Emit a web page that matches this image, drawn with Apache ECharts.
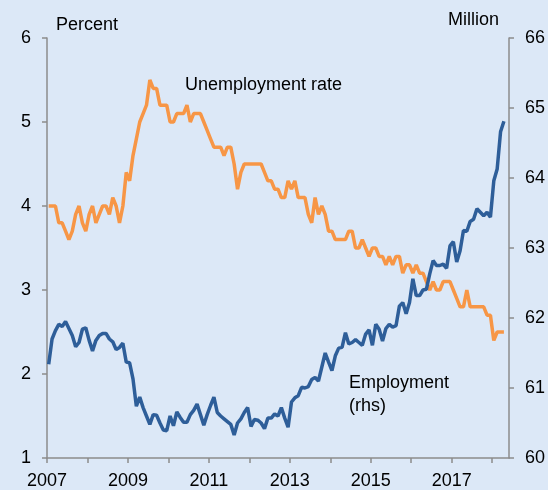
<!DOCTYPE html>
<html>
<head>
<meta charset="utf-8">
<script src="https://cdn.jsdelivr.net/npm/echarts@6/dist/echarts.min.js"></script>
<style>
html,body{margin:0;padding:0;background:#DCE8F7;}
#c{width:548px;height:490px;}
</style>
</head>
<body>
<div id="c"></div>
<script>
// Monthly data, starting January 2007
const startYear = 2007;
const unemploymentRate = [
4.0,4.0,4.0,3.8,3.8,3.7,3.6,3.7,3.9,4.0,3.8,3.7,
3.9,4.0,3.8,3.9,4.0,4.0,3.9,4.1,4.0,3.8,4.0,4.4,
4.3,4.6,4.8,5.0,5.1,5.2,5.5,5.4,5.4,5.2,5.2,5.2,
5.0,5.0,5.1,5.1,5.1,5.2,5.0,5.1,5.1,5.1,5.0,4.9,
4.8,4.7,4.7,4.7,4.6,4.7,4.7,4.5,4.2,4.4,4.5,4.5,
4.5,4.5,4.5,4.5,4.4,4.3,4.3,4.2,4.2,4.1,4.1,4.3,
4.2,4.3,4.1,4.1,4.1,3.9,3.8,4.1,3.9,4.0,3.9,3.7,
3.7,3.6,3.6,3.6,3.6,3.7,3.7,3.5,3.5,3.6,3.5,3.4,
3.5,3.5,3.4,3.4,3.3,3.4,3.3,3.4,3.4,3.2,3.3,3.3,
3.2,3.3,3.2,3.2,3.1,3.0,3.1,3.0,3.0,3.1,3.1,3.1,
3.0,2.9,2.8,2.8,3.0,2.8,2.8,2.8,2.8,2.8,2.7,2.7,
2.4,2.5,2.5,2.5
];
const employment = [
61.34,61.70,61.82,61.91,61.88,61.95,61.85,61.75,61.59,61.65,61.84,61.86,
61.68,61.53,61.68,61.75,61.78,61.78,61.70,61.66,61.55,61.58,61.64,61.37,
61.36,61.13,60.74,60.87,60.72,60.60,60.48,60.62,60.61,60.50,60.40,60.39,
60.60,60.46,60.66,60.58,60.51,60.51,60.62,60.68,60.77,60.62,60.47,60.62,
60.75,60.87,60.65,60.60,60.56,60.52,60.48,60.33,60.50,60.56,60.65,60.72,
60.45,60.55,60.54,60.50,60.42,60.57,60.57,60.63,60.60,60.72,60.57,60.44,
60.80,60.86,60.89,61.01,61.00,61.02,61.12,61.15,61.10,61.30,61.50,61.37,
61.25,61.46,61.57,61.58,61.79,61.63,61.65,61.69,61.65,61.61,61.77,61.83,
61.61,61.91,61.84,61.67,61.85,61.91,61.87,61.89,62.17,62.22,62.06,62.22,
62.56,62.32,62.32,62.40,62.41,62.63,62.82,62.75,62.75,62.77,62.71,63.03,
63.09,62.80,62.96,63.25,63.24,63.38,63.41,63.56,63.51,63.46,63.51,63.44,
63.96,64.13,64.66,64.81
];
const xTicks = [2007,2008,2009,2010,2011,2012,2013,2014,2015,2016,2017,2018];
const xLabels = [2007,2009,2011,2013,2015,2017];
const leftTicks = [1,2,3,4,5,6];
const rightTicks = [60,61,62,63,64,65,66];

const toXY = arr => arr.map((v,i)=>[startYear + (i+0.5)/12, v]);

const FONT = 'Liberation Sans, Arial, sans-serif';
const axisGray = '#8C8C8C';
const chart = echarts.init(document.getElementById('c'), null, {renderer:'canvas'});
chart.setOption({
  backgroundColor:'#DCE8F7',
  animation:false,
  grid:{left:47, right:37, top:38, bottom:30, containLabel:false},
  xAxis:{
    type:'value', min:2007, max:2007+137/12,
    axisLine:{show:true, lineStyle:{color:axisGray, width:1.5}},
    axisTick:{show:true, length:5, lineStyle:{color:axisGray, width:1.5}, customValues:xTicks},
    axisLabel:{color:'#000', fontSize:18, fontFamily:FONT, margin:14, customValues:xLabels, formatter:v=>String(Math.round(v))},
    splitLine:{show:false}
  },
  yAxis:[{
    type:'value', min:1, max:6, interval:1, position:'left',
    axisLine:{show:true, lineStyle:{color:axisGray, width:1.5}},
    axisTick:{show:true, length:5, lineStyle:{color:axisGray, width:1.5}},
    axisLabel:{color:'#000', fontSize:18, fontFamily:FONT, margin:16},
    splitLine:{show:false}
  },{
    type:'value', min:60, max:66, interval:1, position:'right',
    axisLine:{show:true, lineStyle:{color:axisGray, width:1.5}},
    axisTick:{show:true, length:5, lineStyle:{color:axisGray, width:1.5}},
    axisLabel:{color:'#000', fontSize:18, fontFamily:FONT, margin:16},
    splitLine:{show:false}
  }],
  series:[{
    name:'Unemployment rate', type:'line', yAxisIndex:0, data:toXY(unemploymentRate),
    showSymbol:false, symbol:'none', lineStyle:{color:'#F79646', width:3.5}, itemStyle:{color:'#F79646'}
  },{
    name:'Employment (rhs)', type:'line', yAxisIndex:1, data:toXY(employment),
    showSymbol:false, symbol:'none', lineStyle:{color:'#2E5E99', width:3.5}, itemStyle:{color:'#2E5E99'}
  }],
  graphic:[
    {type:'text', left:56, top:16, style:{text:'Percent', font:'18px '+FONT, fill:'#000'}},
    {type:'text', right:49, top:11, style:{text:'Million', font:'18px '+FONT, fill:'#000'}},
    {type:'text', left:185, top:76, style:{text:'Unemployment rate', font:'18px '+FONT, fill:'#000'}},
    {type:'text', left:349, top:372, style:{text:'Employment\n(rhs)', font:'18px '+FONT, fill:'#000', lineHeight:23}}
  ]
});
</script>
</body>
</html>
